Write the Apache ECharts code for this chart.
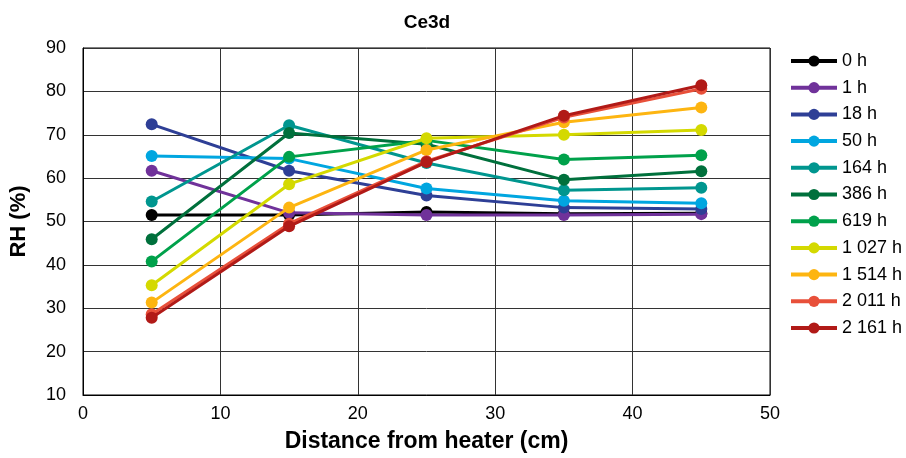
<!DOCTYPE html>
<html>
<head>
<meta charset="utf-8">
<script src="https://cdn.jsdelivr.net/npm/echarts@6/dist/echarts.min.js"></script>
<style>
html,body{margin:0;padding:0;background:#fff;}
#c{width:906px;height:458px;}
</style>
</head>
<body>
<div id="c"></div>
<script>
var distances = [5, 15, 25, 35, 45];
var seriesNames = ['0 h', '1 h', '18 h', '50 h', '164 h', '386 h', '619 h', '1 027 h', '1 514 h', '2 011 h', '2 161 h'];
var seriesColors = ['#000000', '#70329A', '#2E3F96', '#00A6E0', '#00968F', '#00703C', '#00A14B', '#D4D900', '#FDB511', '#E8503A', '#B11A17'];
var v0h    = [51.5, 51.5, 52.2, 51.8, 51.9];
var v1h    = [61.7, 52.0, 51.5, 51.5, 51.7];
var v18h   = [72.4, 61.7, 56.0, 53.2, 52.9];
var v50h   = [65.1, 64.5, 57.6, 54.8, 54.2];
var v164h  = [54.6, 72.2, 63.5, 57.2, 57.8];
var v386h  = [45.9, 70.4, 67.8, 59.6, 61.6];
var v619h  = [40.8, 64.9, 68.7, 64.3, 65.3];
var v1027h = [35.3, 58.6, 69.2, 70.0, 71.1];
var v1514h = [31.3, 53.2, 66.5, 72.9, 76.3];
var v2011h = [28.6, 49.5, 63.9, 74.0, 80.6];
var v2161h = [27.8, 48.9, 63.7, 74.4, 81.4];
var allValues = [v0h, v1h, v18h, v50h, v164h, v386h, v619h, v1027h, v1514h, v2011h, v2161h];
var xTicks = [0, 10, 20, 30, 40, 50];
var yTicks = [10, 20, 30, 40, 50, 60, 70, 80, 90];

var FONT = '"Liberation Sans", Arial, sans-serif';
var series = seriesNames.map(function (name, i) {
  return {
    name: name,
    type: 'line',
    data: distances.map(function (d, j) { return [d, allValues[i][j]]; }),
    symbol: 'circle',
    symbolSize: 12,
    showSymbol: true,
    lineStyle: { width: 3, color: seriesColors[i] },
    itemStyle: { color: seriesColors[i] },
    z: 2 + i,
    animation: false
  };
});

var chart = echarts.init(document.getElementById('c'), null, { renderer: 'canvas' });
chart.setOption({
  animation: false,
  backgroundColor: '#ffffff',
  title: {
    text: 'Ce3d',
    left: 422,
    top: 8,
    textAlign: 'center',
    textStyle: { fontFamily: FONT, fontSize: 19, fontWeight: 'bold', color: '#000' }
  },
  grid: {
    left: 82, right: 136, top: 48, bottom: 61,
    show: true, borderColor: '#000', borderWidth: 1, backgroundColor: 'transparent'
  },
  legend: {
    orient: 'vertical',
    left: 784,
    top: 47,
    itemWidth: 46,
    itemHeight: 14,
    itemGap: 8.7,
    data: seriesNames,
    lineStyle: { width: 4 },
    textStyle: { fontFamily: FONT, fontSize: 18, color: '#000', lineHeight: 14 },
    selectedMode: false
  },
  xAxis: {
    type: 'value',
    min: xTicks[0],
    max: xTicks[xTicks.length - 1],
    interval: 10,
    name: 'Distance from heater (cm)',
    nameLocation: 'middle',
    nameGap: 35,
    nameTextStyle: { fontFamily: FONT, fontSize: 23, fontWeight: 'bold', color: '#000' },
    axisLine: { show: true, lineStyle: { color: '#000', width: 1 } },
    axisTick: { show: false },
    axisLabel: { fontFamily: FONT, fontSize: 18, color: '#000', margin: 10 },
    splitLine: { show: true, lineStyle: { color: '#333', width: 1 } }
  },
  yAxis: {
    type: 'value',
    min: yTicks[0],
    max: yTicks[yTicks.length - 1],
    interval: 10,
    name: 'RH (%)',
    nameLocation: 'middle',
    nameGap: 53,
    nameRotate: 90,
    nameTextStyle: { fontFamily: FONT, fontSize: 22, fontWeight: 'bold', color: '#000' },
    axisLine: { show: true, lineStyle: { color: '#000', width: 1 } },
    axisTick: { show: false },
    axisLabel: { fontFamily: FONT, fontSize: 18, color: '#000', margin: 17 },
    splitLine: { show: true, lineStyle: { color: '#333', width: 1 } }
  },
  series: series
});
</script>
</body>
</html>
